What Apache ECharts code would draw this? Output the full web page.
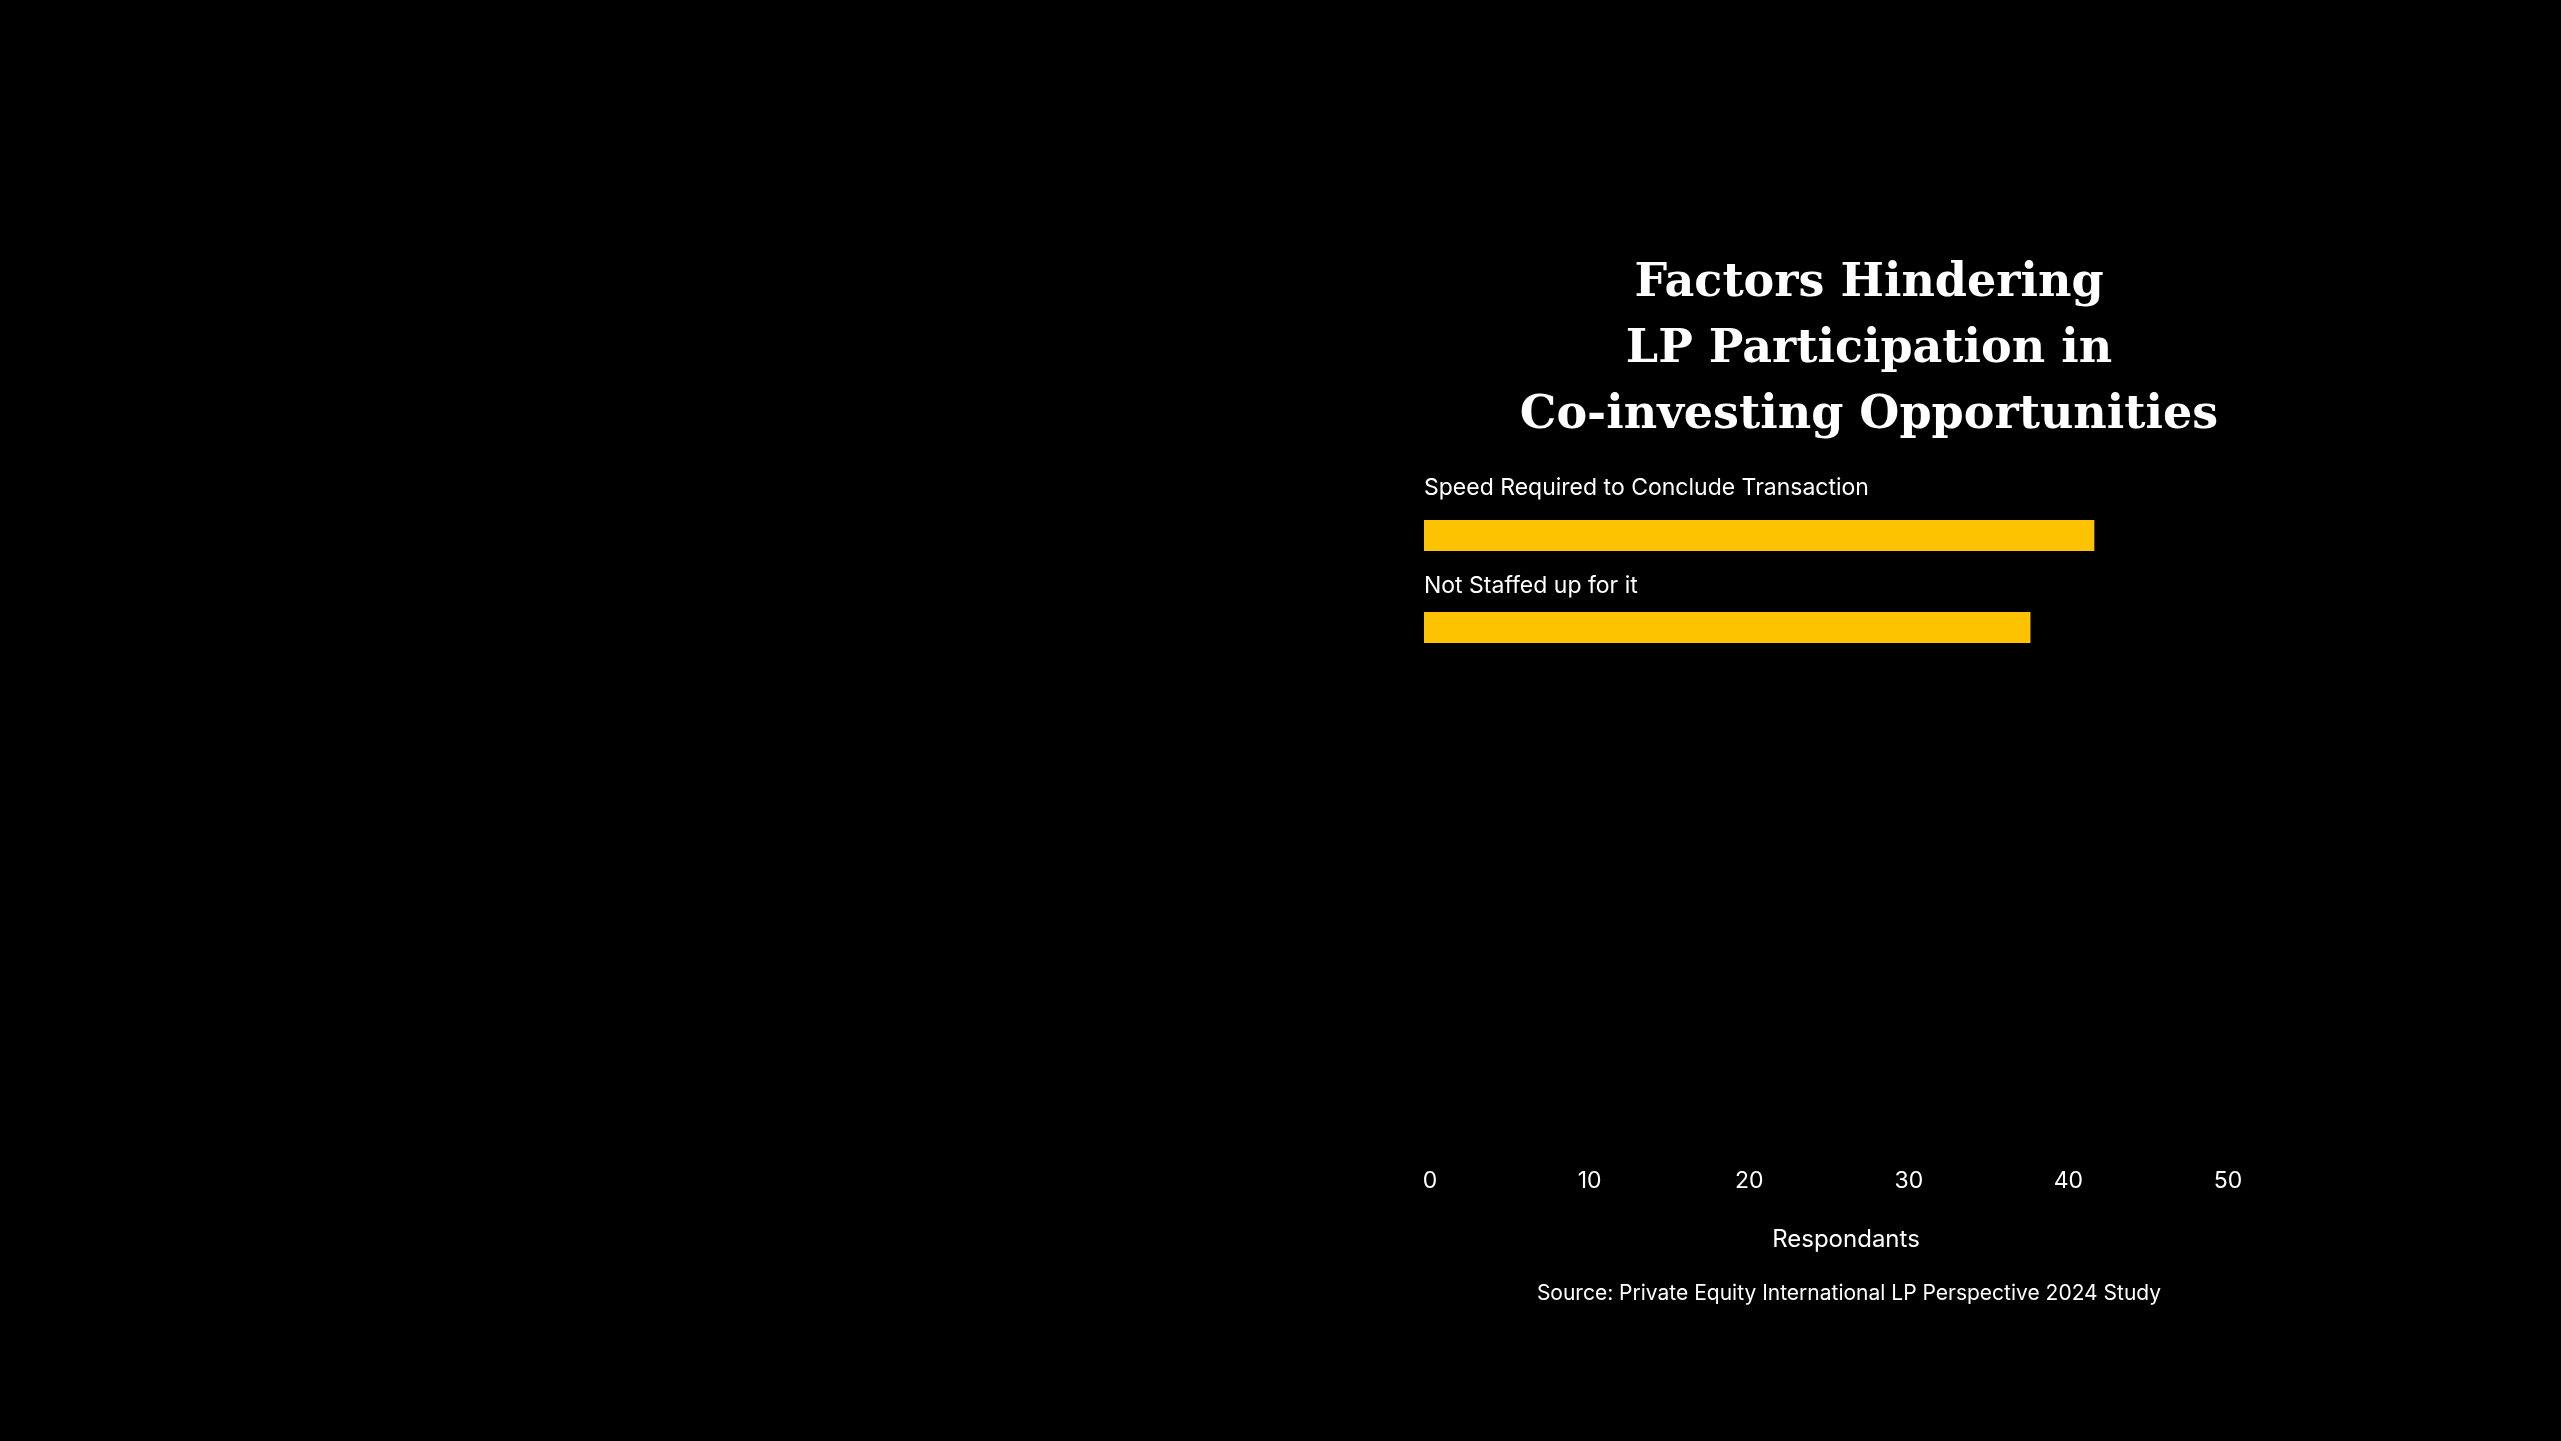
<!DOCTYPE html>
<html>
<head>
<meta charset="utf-8">
<script src="https://cdn.jsdelivr.net/npm/echarts@6/dist/echarts.min.js"></script>
<style>
html, body { margin: 0; padding: 0; background: #000; }
#chart { width: 2561px; height: 1441px; }
</style>
</head>
<body>
<div id="chart"></div>
<script>
var categories = ['Speed Required to Conclude Transaction', 'Not Staffed up for it'];
var respondents = [42, 38];
var xTicks = [0, 10, 20, 30, 40, 50];

// how far each category name sits above its bar
var labelLift = [44, 38];

var myChart = echarts.init(document.getElementById('chart'));

var barData = respondents.map(function (v, i) {
	return {
		value: v,
		label: { position: [0, -labelLift[i]] }
	};
});

var option = {
	backgroundColor: '#000',
	title: [{
		text: 'Factors Hindering\nLP Participation in\nCo-investing Opportunities',
		left: 1864,
		top: 246,
		textAlign: 'center',
		textStyle: {
			color: '#fff',
			fontFamily: "'DejaVu Serif', serif",
			fontWeight: 'bold',
			fontSize: 46,
			lineHeight: 66
		}
	}, {
		text: 'Source: Private Equity International LP Perspective 2024 Study',
		left: 1844,
		top: 1278,
		textAlign: 'center',
		textStyle: {
			color: '#fff',
			fontFamily: 'Inter, sans-serif',
			fontWeight: 'normal',
			fontSize: 21
		}
	}],
	grid: {
		left: 1424,
		right: 339,
		top: 489.5,
		height: 184
	},
	xAxis: {
		type: 'value',
		min: xTicks[0],
		max: xTicks[xTicks.length - 1],
		interval: 10,
		offset: 488,
		name: 'Respondants',
		nameLocation: 'middle',
		nameGap: 66,
		nameTextStyle: {
			color: '#fff',
			fontFamily: 'Inter, sans-serif',
			fontSize: 24,
			padding: [0, 0, 0, 46]
		},
		axisLine: { show: false },
		axisTick: { show: false },
		splitLine: { show: false },
		axisLabel: {
			color: '#fff',
			fontFamily: 'Inter, sans-serif',
			fontSize: 23,
			margin: 8,
			padding: [0, 0, 0, 12]
		}
	},
	yAxis: {
		type: 'category',
		inverse: true,
		data: categories,
		axisLine: { show: false },
		axisTick: { show: false },
		axisLabel: { show: false },
		splitLine: { show: false }
	},
	series: [{
		type: 'bar',
		data: barData,
		barWidth: 31,
		itemStyle: { color: '#FDC300' },
		label: {
			show: true,
			formatter: '{b}',
			align: 'left',
			verticalAlign: 'top',
			color: '#fff',
			fontFamily: 'Inter, sans-serif',
			fontSize: 23,
			lineHeight: 24
		}
	}]
};

myChart.setOption(option);
</script>
</body>
</html>
